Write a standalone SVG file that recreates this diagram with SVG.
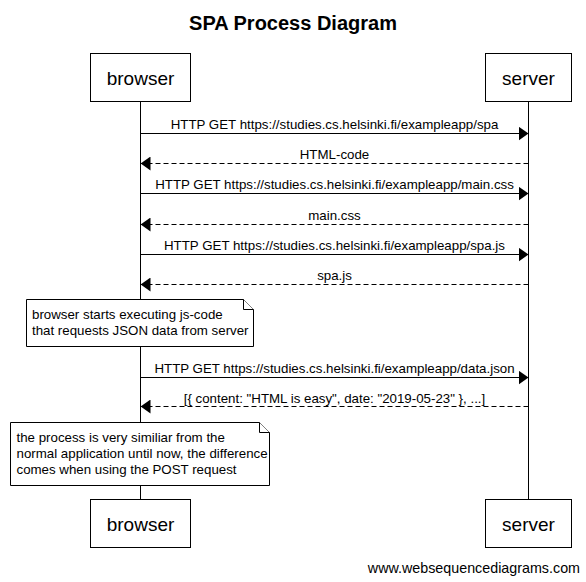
<svg xmlns="http://www.w3.org/2000/svg" width="586" height="582" viewBox="0 0 586 582">
<style>
  .box{fill:#fff;stroke:#000;stroke-width:1}
  .actor{font-family:"Liberation Sans",Arial,sans-serif;font-size:19px;fill:#000;text-anchor:middle}
  .lbl{font-family:"Liberation Sans",Arial,sans-serif;font-size:13.3px;fill:#000;text-anchor:middle}
  .nt{font-family:"Liberation Sans",Arial,sans-serif;font-size:13.3px;fill:#000}
  .life{stroke:#000;stroke-width:1}
  .msg{stroke:#000;stroke-width:1;fill:none}
  .dash{stroke-dasharray:5,3}
  .note{fill:#fff;stroke:#000;stroke-width:1}
</style>
<defs>
  <marker id="ah" viewBox="0 0 10 14" refX="10" refY="7" markerWidth="10" markerHeight="14" markerUnits="userSpaceOnUse" orient="auto">
    <path d="M0,0 L10,7 L0,14 Z" fill="#000"/>
  </marker>
</defs>
<rect width="586" height="582" fill="#fff"/>
<text x="293" y="30" font-family="Liberation Sans,Arial,sans-serif" font-size="20" font-weight="bold" text-anchor="middle">SPA Process Diagram</text>

<g id="lifelines">
  <line class="life" x1="140.5" y1="102" x2="140.5" y2="499"/>
  <line class="life" x1="528.5" y1="102" x2="528.5" y2="499"/>
</g>

<g id="browser-top"><rect class="box" x="90.5" y="53.5" width="100" height="48"/><text class="actor" x="140.5" y="85">browser</text></g>
<g id="server-top"><rect class="box" x="485.5" y="53.5" width="86" height="48"/><text class="actor" x="528.5" y="85">server</text></g>
<g id="browser-bottom"><rect class="box" x="90.5" y="499.5" width="100" height="48"/><text class="actor" x="140.5" y="531">browser</text></g>
<g id="server-bottom"><rect class="box" x="485.5" y="499.5" width="86" height="48"/><text class="actor" x="528.5" y="531">server</text></g>

<g id="connectors">
  <line class="msg" x1="140.5" y1="133.5" x2="528.5" y2="133.5" marker-end="url(#ah)"/>
  <text class="lbl" x="334.5" y="129">HTTP GET https://studies.cs.helsinki.fi/exampleapp/spa</text>
  <line class="msg dash" x1="528.5" y1="163.5" x2="140.5" y2="163.5" marker-end="url(#ah)"/>
  <text class="lbl" x="334.5" y="159">HTML-code</text>
  <line class="msg" x1="140.5" y1="193.5" x2="528.5" y2="193.5" marker-end="url(#ah)"/>
  <text class="lbl" x="334.5" y="189">HTTP GET https://studies.cs.helsinki.fi/exampleapp/main.css</text>
  <line class="msg dash" x1="528.5" y1="224.5" x2="140.5" y2="224.5" marker-end="url(#ah)"/>
  <text class="lbl" x="334.5" y="220">main.css</text>
  <line class="msg" x1="140.5" y1="254.5" x2="528.5" y2="254.5" marker-end="url(#ah)"/>
  <text class="lbl" x="334.5" y="250">HTTP GET https://studies.cs.helsinki.fi/exampleapp/spa.js</text>
  <line class="msg dash" x1="528.5" y1="284.5" x2="140.5" y2="284.5" marker-end="url(#ah)"/>
  <text class="lbl" x="334.5" y="280">spa.js</text>
  <line class="msg" x1="140.5" y1="377.5" x2="528.5" y2="377.5" marker-end="url(#ah)"/>
  <text class="lbl" x="334.5" y="373">HTTP GET https://studies.cs.helsinki.fi/exampleapp/data.json</text>
  <line class="msg dash" x1="528.5" y1="406.5" x2="140.5" y2="406.5" marker-end="url(#ah)"/>
  <text class="lbl" x="334.5" y="403">[{ content: "HTML is easy", date: "2019-05-23" }, ...]</text>
</g>

<g id="note1">
  <path class="note" d="M26.5,299.5 L243.5,299.5 L253.5,309.5 L253.5,346.5 L26.5,346.5 Z"/>
  <path class="note" d="M243.5,299.5 L243.5,309.5 L253.5,309.5" fill="none"/>
  <text class="nt" x="32" y="319">browser starts executing js-code</text>
  <text class="nt" x="32" y="335">that requests JSON data from server</text>
</g>

<g id="note2">
  <path class="note" d="M10.5,422.5 L259.5,422.5 L269.5,432.5 L269.5,485.5 L10.5,485.5 Z"/>
  <path class="note" d="M259.5,422.5 L259.5,432.5 L269.5,432.5" fill="none"/>
  <text class="nt" x="16.5" y="442">the process is very similiar from the</text>
  <text class="nt" x="16.5" y="458">normal application until now, the difference</text>
  <text class="nt" x="16.5" y="474">comes when using the POST request</text>
</g>

<text x="580" y="573" font-family="Liberation Sans,Arial,sans-serif" font-size="14.3" text-anchor="end">www.websequencediagrams.com</text>
</svg>
